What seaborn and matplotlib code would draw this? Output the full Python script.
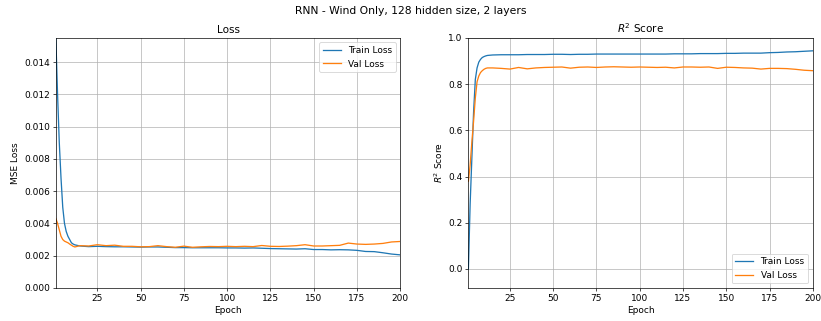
import matplotlib
matplotlib.use('Agg')
import matplotlib.pyplot as plt
import seaborn as sns
import pandas as pd

# Epochs sampled from the curves
epochs = [1, 2, 3, 4, 5, 6, 7, 8, 9, 10, 11, 12,
          15, 20, 25, 30, 35, 40, 45, 50, 55, 60,
          65, 70, 75, 80, 85, 90, 95, 100, 105, 110,
          115, 120, 125, 130, 135, 140, 145, 150, 155, 160,
          165, 170, 175, 180, 185, 190, 195, 200]

train_loss = [0.0155, 0.0120, 0.0090, 0.0068, 0.0050, 0.0040, 0.0035, 0.0032, 0.0030, 0.0028, 0.00272, 0.00267,
              0.00260, 0.00256, 0.00258, 0.00256, 0.00255, 0.00255, 0.00254, 0.00253, 0.00254, 0.00254,
              0.00252, 0.00250, 0.00250, 0.00249, 0.00249, 0.00249, 0.00249, 0.00248, 0.00248, 0.00247,
              0.00248, 0.00246, 0.00244, 0.00243, 0.00242, 0.00241, 0.00243, 0.00238, 0.00238, 0.00236,
              0.00237, 0.00236, 0.00233, 0.00226, 0.00225, 0.00218, 0.00210, 0.00205]

val_loss = [0.0043, 0.0040, 0.0036, 0.0032, 0.0030, 0.0029, 0.00285, 0.00280, 0.00272, 0.00265, 0.00258, 0.00254,
            0.00262, 0.00260, 0.00268, 0.00262, 0.00265, 0.00258, 0.00258, 0.00255, 0.00256, 0.00262,
            0.00256, 0.00252, 0.00259, 0.00252, 0.00255, 0.00257, 0.00256, 0.00258, 0.00256, 0.00258,
            0.00256, 0.00263, 0.00258, 0.00257, 0.00259, 0.00262, 0.00268, 0.00260, 0.00260, 0.00262,
            0.00264, 0.00278, 0.00272, 0.00270, 0.00272, 0.00276, 0.00285, 0.00288]

train_r2 = [0.0, 0.28, 0.48, 0.68, 0.82, 0.87, 0.895, 0.907, 0.915, 0.919, 0.922, 0.924,
            0.926, 0.927, 0.927, 0.927, 0.928, 0.928, 0.928, 0.929, 0.929, 0.928,
            0.929, 0.929, 0.930, 0.930, 0.930, 0.930, 0.930, 0.930, 0.930, 0.930,
            0.930, 0.931, 0.931, 0.931, 0.932, 0.932, 0.932, 0.933, 0.933, 0.934,
            0.934, 0.934, 0.936, 0.937, 0.939, 0.940, 0.942, 0.944]

val_r2 = [0.38, 0.45, 0.55, 0.64, 0.74, 0.81, 0.835, 0.85, 0.858, 0.864, 0.868, 0.870,
          0.870, 0.868, 0.865, 0.872, 0.866, 0.870, 0.872, 0.873, 0.874, 0.869,
          0.873, 0.874, 0.872, 0.874, 0.875, 0.874, 0.873, 0.874, 0.873, 0.872,
          0.873, 0.870, 0.874, 0.874, 0.873, 0.874, 0.868, 0.873, 0.872, 0.870,
          0.869, 0.865, 0.868, 0.868, 0.867, 0.864, 0.860, 0.858]

df = pd.DataFrame({'Epoch': epochs,
                   'train_loss': train_loss, 'val_loss': val_loss,
                   'train_r2': train_r2, 'val_r2': val_r2})

plt.rcParams['font.size'] = 10.5

# large figure rendered at low dpi -> 821x321 px
DPI = 62
fig, axes = plt.subplots(1, 2, figsize=(821 / DPI, 321 / DPI), dpi=DPI)
fig.subplots_adjust(left=0.068, right=0.99, top=0.882, bottom=0.103, wspace=0.198)
fig.suptitle('RNN - Wind Only, 128 hidden size, 2 layers', fontsize=12.5)

ticks = [25, 50, 75, 100, 125, 150, 175, 200]

# Loss
ax = axes[0]
sns.lineplot(data=df, x='Epoch', y='train_loss', ax=ax, label='Train Loss', color='tab:blue')
sns.lineplot(data=df, x='Epoch', y='val_loss', ax=ax, label='Val Loss', color='tab:orange')
ax.set_title('Loss', fontsize=12)
ax.set_ylabel('MSE Loss')
ax.set_xlim(1, 200)
ax.set_ylim(0, 0.0155)
ax.set_xticks(ticks)
ax.grid(True)
ax.legend(loc='upper right')

# R2
ax = axes[1]
sns.lineplot(data=df, x='Epoch', y='train_r2', ax=ax, label='Train Loss', color='tab:blue')
sns.lineplot(data=df, x='Epoch', y='val_r2', ax=ax, label='Val Loss', color='tab:orange')
ax.set_title('$R^2$ Score', fontsize=12)
ax.set_ylabel('$R^2$ Score')
ax.set_xlim(1, 200)
ax.set_ylim(-0.082, 1.0)
ax.set_xticks(ticks)
ax.grid(True)
ax.legend(loc='lower right')

plt.savefig('out.png', dpi=DPI, facecolor='white')
plt.close()
